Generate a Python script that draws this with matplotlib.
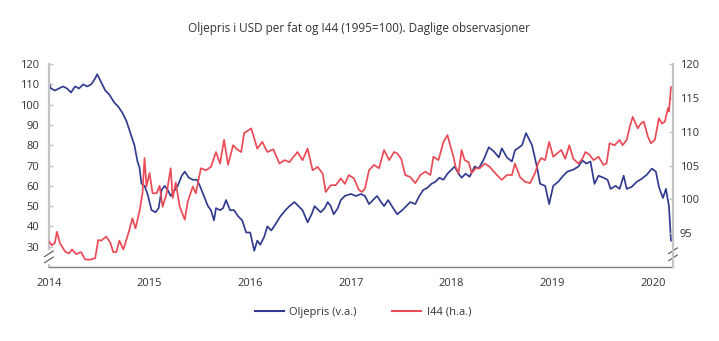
import matplotlib
matplotlib.use("Agg")
import matplotlib.pyplot as plt
from matplotlib.lines import Line2D

plt.rcParams['font.family'] = ['Open Sans', 'DejaVu Sans']

# Oljepris (USD per fat), venstre akse
oil_t = [2014.00, 2014.02, 2014.06, 2014.10, 2014.14, 2014.18, 2014.22, 2014.26, 2014.30, 2014.34,
         2014.38, 2014.42, 2014.46, 2014.48, 2014.52, 2014.56, 2014.60, 2014.65, 2014.69, 2014.73,
         2014.77, 2014.81, 2014.85, 2014.88, 2014.90, 2014.92, 2014.95, 2014.98, 2015.02, 2015.06,
         2015.09, 2015.12, 2015.15, 2015.18, 2015.21, 2015.24, 2015.28, 2015.32, 2015.35, 2015.39,
         2015.43, 2015.47, 2015.50, 2015.54, 2015.58, 2015.61, 2015.64, 2015.66, 2015.70, 2015.73,
         2015.76, 2015.80, 2015.84, 2015.88, 2015.92, 2015.96, 2016.00, 2016.04, 2016.07, 2016.10,
         2016.14, 2016.17, 2016.21, 2016.25, 2016.30, 2016.35, 2016.39, 2016.44, 2016.48, 2016.52,
         2016.57, 2016.61, 2016.64, 2016.70, 2016.74, 2016.77, 2016.80, 2016.83, 2016.87, 2016.90,
         2016.94, 2017.00, 2017.05, 2017.10, 2017.14, 2017.18, 2017.22, 2017.26, 2017.30, 2017.33,
         2017.37, 2017.42, 2017.46, 2017.51, 2017.55, 2017.59, 2017.64, 2017.68, 2017.72, 2017.76,
         2017.80, 2017.84, 2017.88, 2017.92, 2017.96, 2018.00, 2018.03, 2018.07, 2018.10, 2018.14,
         2018.18, 2018.23, 2018.27, 2018.32, 2018.37, 2018.42, 2018.47, 2018.50, 2018.55, 2018.60,
         2018.63, 2018.70, 2018.74, 2018.77, 2018.80, 2018.85, 2018.88, 2018.93, 2018.97, 2019.01,
         2019.06, 2019.11, 2019.15, 2019.21, 2019.26, 2019.30, 2019.34, 2019.38, 2019.42, 2019.46,
         2019.51, 2019.55, 2019.58, 2019.63, 2019.67, 2019.71, 2019.74, 2019.79, 2019.84, 2019.89,
         2019.94, 2019.99, 2020.03, 2020.06, 2020.10, 2020.13, 2020.16, 2020.18]
oil = [111, 108, 107, 108, 109, 108, 106, 109, 108, 110,
       109, 110, 113, 115, 111, 107, 105, 101, 99, 96,
       92, 86, 80, 72, 69, 61, 60, 56, 48, 47,
       49, 58, 60, 58, 55, 57, 60, 65, 67, 64,
       63, 63, 60, 55, 50, 48, 43, 49, 48, 49,
       53, 48, 48, 45, 43, 37, 37, 28, 33, 31,
       35, 40, 38, 41, 45, 48, 50, 52, 50, 48,
       42, 46, 50, 47, 49, 52, 50, 46, 49, 53,
       55, 56, 55, 56, 55, 51, 53, 55, 52, 50,
       53, 49, 46, 48, 50, 52, 51, 55, 58, 59,
       61, 62, 64, 63, 66, 68, 69.5, 66, 64, 66,
       64.5, 69.5, 68.6, 73, 79, 77, 74, 78.5, 74, 72,
       77.5, 80, 86, 83, 80, 69, 61, 60, 51, 60,
       62, 65, 67, 68, 69.5, 72.5, 71, 72, 61, 65,
       64, 63, 58.5, 60, 58.5, 65, 58.5, 59.5, 62, 63.5,
       65.5, 68.5, 67, 59.5, 54, 58.5, 50, 33]

# I44 (1995=100), hoeyre akse
i44_t = [2014.00, 2014.03, 2014.06, 2014.08, 2014.11, 2014.14, 2014.16, 2014.20, 2014.23, 2014.27,
         2014.32, 2014.36, 2014.41, 2014.46, 2014.49, 2014.52, 2014.57, 2014.61, 2014.64, 2014.67,
         2014.70, 2014.74, 2014.79, 2014.83, 2014.86, 2014.90, 2014.93, 2014.95, 2014.97, 2015.00,
         2015.03, 2015.07, 2015.10, 2015.13, 2015.17, 2015.21, 2015.23, 2015.26, 2015.30, 2015.35,
         2015.38, 2015.43, 2015.46, 2015.51, 2015.56, 2015.61, 2015.66, 2015.70, 2015.74, 2015.78,
         2015.83, 2015.87, 2015.91, 2015.94, 2016.01, 2016.03, 2016.07, 2016.12, 2016.17, 2016.23,
         2016.29, 2016.34, 2016.39, 2016.43, 2016.47, 2016.52, 2016.57, 2016.62, 2016.67, 2016.72,
         2016.75, 2016.80, 2016.85, 2016.90, 2016.94, 2016.98, 2017.03, 2017.08, 2017.11, 2017.14,
         2017.18, 2017.23, 2017.28, 2017.33, 2017.38, 2017.43, 2017.46, 2017.50, 2017.54, 2017.59,
         2017.64, 2017.69, 2017.74, 2017.79, 2017.82, 2017.87, 2017.92, 2017.96, 2017.99, 2018.02,
         2018.04, 2018.07, 2018.10, 2018.13, 2018.17, 2018.20, 2018.24, 2018.28, 2018.33, 2018.38,
         2018.45, 2018.50, 2018.55, 2018.60, 2018.63, 2018.68, 2018.73, 2018.78, 2018.83, 2018.86,
         2018.89, 2018.93, 2018.97, 2019.01, 2019.05, 2019.09, 2019.13, 2019.17, 2019.21, 2019.26,
         2019.30, 2019.33, 2019.37, 2019.41, 2019.46, 2019.51, 2019.54, 2019.57, 2019.62, 2019.67,
         2019.70, 2019.74, 2019.77, 2019.80, 2019.85, 2019.88, 2019.91, 2019.95, 2019.98, 2020.02,
         2020.06, 2020.09, 2020.12, 2020.15, 2020.16, 2020.18]
i44 = [93.8, 93.2, 93.6, 95.2, 93.5, 92.8, 92.3, 92.0, 92.6, 91.9,
       92.2, 91.1, 91.1, 91.3, 94.0, 93.9, 94.5, 93.6, 92.2, 92.2,
       93.9, 92.6, 95.0, 97.2, 95.7, 98.2, 100.9, 106.1, 101.9, 103.9,
       100.9, 100.9, 102.0, 98.9, 100.9, 104.6, 100.2, 102.5, 98.9, 97.0,
       99.7, 101.9, 100.9, 104.6, 104.3, 104.8, 107.0, 105.3, 108.8, 105.1,
       108.0, 107.4, 107.0, 109.8, 110.5, 109.5, 107.5, 108.5, 107.0, 107.4,
       105.3, 105.8, 105.5, 106.3, 107.0, 105.8, 107.5, 104.3, 104.8, 103.8,
       101.1, 102.1, 102.1, 103.1, 102.3, 103.6, 103.1, 101.4, 101.1, 101.6,
       104.3, 105.1, 104.6, 107.3, 105.8, 107.0, 106.8, 106.0, 103.6, 103.3,
       102.4, 103.6, 104.1, 103.6, 106.3, 105.8, 108.5, 109.5, 107.8, 106.3,
       104.8, 103.9, 107.3, 105.8, 105.5, 103.9, 104.6, 104.6, 105.3, 104.8,
       103.6, 102.9, 103.6, 103.6, 105.3, 103.3, 102.6, 102.4, 103.9, 105.3,
       106.1, 105.8, 108.5, 106.3, 106.8, 107.3, 106.0, 108.0, 106.0, 105.3,
       106.0, 107.0, 106.6, 105.8, 106.3, 105.1, 105.3, 108.3, 108.0, 108.8,
       108.0, 108.8, 110.7, 112.2, 110.5, 111.2, 111.5, 109.3, 108.3, 108.8,
       112.0, 111.2, 111.5, 113.5, 113.0, 116.6]

years = [2014, 2015, 2016, 2017, 2018, 2019, 2020]
left_ticks = [30, 40, 50, 60, 70, 80, 90, 100, 110, 120]
right_ticks = [95, 100, 105, 110, 115, 120]

blue = '#323c8e'
red = '#ea4b57'
spine_col = '#c4c4c4'
txt = '#333333'

fig = plt.figure(figsize=(7.19, 3.41), dpi=100)
ax = fig.add_axes([0.068, 0.217, 0.868, 0.595])
ax2 = ax.twinx()

ax.plot(oil_t, oil, color=blue, lw=1.25, label='Oljepris (v.a.)')
ax2.plot(i44_t, i44, color=red, lw=1.25, label='I44 (h.a.)')

ax.set_xlim(2014, 2020.2)
ax.set_ylim(20, 120)
ax2.set_ylim(90, 120)
ax.set_xticks(years)
ax.set_xticklabels([str(y) for y in years])
ax.set_yticks(left_ticks)
ax2.set_yticks(right_ticks)

for a in (ax, ax2):
    a.spines['top'].set_visible(False)
    a.spines['left'].set_color(spine_col)
    a.spines['right'].set_color(spine_col)
    a.spines['left'].set_linewidth(1.6)
    a.spines['right'].set_linewidth(1.6)
    a.spines['bottom'].set_color('#808080')
    a.spines['bottom'].set_linewidth(1.0)
    a.tick_params(axis='y', direction='in', length=3, width=1, color=spine_col,
                  labelsize=8, labelcolor=txt, pad=7)
    a.tick_params(axis='x', length=0, labelsize=8, labelcolor=txt, pad=8)
ax.spines['right'].set_visible(False)
ax2.spines['left'].set_visible(False)
ax2.spines['bottom'].set_visible(False)
ax2.tick_params(axis='y', pad=5)

# brudd i aksene
for x0, ys in ((0.0, (0.035, 0.065)), (1.0, (0.045, 0.08))):
    ax.plot([x0, x0], [ys[0] - 0.01, ys[1] + 0.01], color='white', lw=3,
            transform=ax.transAxes, clip_on=False, zorder=5)
    for yc in ys:
        ax.plot([x0 - 0.007, x0 + 0.007], [yc - 0.014, yc + 0.014], color='#555555', lw=0.8,
                transform=ax.transAxes, clip_on=False, zorder=6)

fig.text(0.5, 0.915, 'Oljepris i USD per fat og I44 (1995=100). Daglige observasjoner',
         ha='center', va='center', fontsize=8.5, color=txt)

handles = [Line2D([], [], color=blue, lw=1.5), Line2D([], [], color=red, lw=1.5)]
fig.legend(handles, ['Oljepris (v.a.)', 'I44 (h.a.)'], loc='center', ncol=2,
           bbox_to_anchor=(0.505, 0.085), frameon=False, fontsize=8, handlelength=2.6,
           handletextpad=0.5, columnspacing=3.2, labelcolor=txt)

fig.savefig('out.png', dpi=100)
